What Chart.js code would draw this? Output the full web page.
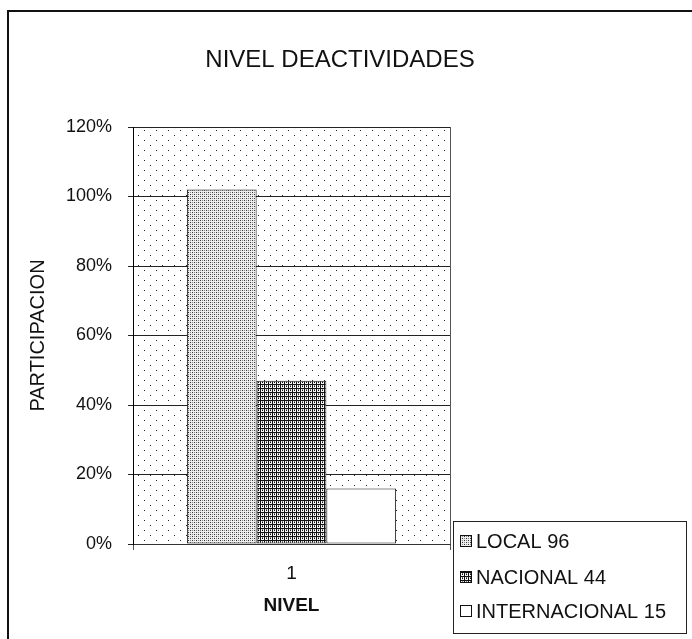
<!DOCTYPE html>
<html><head><meta charset="utf-8">
<script src="https://cdn.jsdelivr.net/npm/chart.js@4"></script>
<style>html,body{margin:0;padding:0;background:#fff;} canvas{display:block;}</style>
</head><body>
<canvas id="c" width="692" height="639"></canvas>
<script>
const categories = ['1'];
const seriesNames = ['LOCAL 96', 'NACIONAL 44', 'INTERNACIONAL 15'];
const localValues = [102];
const nacionalValues = [47];
const internacionalValues = [16];
const yTickStep = 20;
const yMax = 120;

const FAMILY = '"Liberation Sans", Arial, sans-serif';

function makePattern(w, h, bg, pixels) {
  const c = document.createElement('canvas');
  c.width = w; c.height = h;
  const x = c.getContext('2d');
  x.fillStyle = bg; x.fillRect(0, 0, w, h);
  for (const [px, py, col] of pixels) { x.fillStyle = col; x.fillRect(px, py, 1, 1); }
  return x.createPattern(c, 'repeat');
}
const bgPattern = makePattern(12, 10, '#ffffff', [[0,0,'#222'],[6,5,'#222']]);
const localPattern = makePattern(4, 4, '#eeeeee', [[0,0,'#333'],[2,2,'#333'],[2,0,'#888'],[0,2,'#888']]);
const nacPattern = makePattern(4, 4, '#f4f4f4', [[0,0,'#111'],[1,0,'#111'],[2,0,'#111'],[3,0,'#111'],[0,1,'#111'],[0,2,'#111'],[0,3,'#111'],[2,2,'#111'],[2,1,'#777']]);
const intPattern = '#ffffff';

const framePlugin = {
  id: 'frame',
  beforeDraw(chart) {
    const ctx = chart.ctx, a = chart.chartArea;
    ctx.save();
    ctx.fillStyle = '#fff';
    ctx.fillRect(0, 0, chart.width, chart.height);
    ctx.fillStyle = bgPattern;
    ctx.fillRect(a.left, a.top, a.right - a.left, a.bottom - a.top);
    ctx.strokeStyle = '#111';
    ctx.lineWidth = 2;
    ctx.beginPath();
    ctx.moveTo(8, chart.height); ctx.lineTo(8, 11); ctx.lineTo(chart.width, 11);
    ctx.stroke();
    ctx.restore();
  },
  afterDraw(chart) {
    const ctx = chart.ctx;
    const bx = 453, by = 521, bw = 233, bh = 112;
    ctx.save();
    ctx.fillStyle = '#fff';
    ctx.fillRect(bx, by, bw, bh);
    ctx.strokeStyle = '#222';
    ctx.lineWidth = 1;
    ctx.strokeRect(bx + 0.5, by + 0.5, bw, bh);
    const ys = [541, 577, 611];
    ctx.font = '20px ' + FAMILY;
    ctx.textBaseline = 'middle';
    chart.data.datasets.forEach((ds, i) => {
      const y = ys[i];
      ctx.fillStyle = ds.backgroundColor;
      ctx.fillRect(460, y - 5, 11, 11);
      ctx.strokeStyle = '#111';
      ctx.strokeRect(460.5, y - 5.5, 11, 11);
      ctx.fillStyle = '#111';
      ctx.fillText(ds.label, 476, y + 1);
    });
    ctx.restore();
  }
};

new Chart(document.getElementById('c'), {
  type: 'bar',
  data: {
    labels: categories,
    datasets: [
      { label: seriesNames[0], data: localValues, backgroundColor: localPattern },
      { label: seriesNames[1], data: nacionalValues, backgroundColor: nacPattern },
      { label: seriesNames[2], data: internacionalValues, backgroundColor: intPattern }
    ]
  },
  options: {
    responsive: false,
    animation: false,
    devicePixelRatio: 1,
    layout: { padding: { left: 0, right: 12, top: 0, bottom: 0 } },
    datasets: { bar: { barPercentage: 1, categoryPercentage: 0.66, borderColor: '#111', borderWidth: 1, borderSkipped: false } },
    plugins: {
      legend: { display: false },
      tooltip: { enabled: false },
      title: {
        display: true, text: 'NIVEL DEACTIVIDADES', color: '#111',
        font: { family: FAMILY, size: 24, weight: 'normal' },
        padding: { top: 46, bottom: 52.2 }
      }
    },
    scales: {
      x: {
        offset: true,
        grid: { display: true, color: '#555', lineWidth: 1, tickLength: 6 },
        border: { display: true, color: '#333' },
        ticks: { color: '#111', font: { family: FAMILY, size: 19 }, padding: 12 },
        title: { display: true, text: 'NIVEL', color: '#111', font: { family: FAMILY, size: 19, weight: 'bold' }, padding: { top: 0, bottom: 22 } },
        afterFit(s) { s.height = 95; }
      },
      y: {
        min: 0, max: yMax,
        grid: { color: '#222', lineWidth: 1, tickLength: 5 },
        border: { display: true, color: '#000' },
        ticks: { stepSize: yTickStep, color: '#111', font: { family: FAMILY, size: 18 }, padding: 16, callback: v => v + '%' },
        title: { display: true, text: 'PARTICIPACION', color: '#111', font: { family: FAMILY, size: 20 }, padding: { top: 26, bottom: 0 } },
        afterFit(s) { s.width = 133; }
      },
      yR: {
        position: 'right', min: 0, max: 1, display: true,
        grid: { display: false, drawOnChartArea: false },
        border: { display: false },
        ticks: { display: false },
        afterFit(s) { s.width = 230; }
      }
    }
  },
  plugins: [framePlugin]
});
</script>
</body></html>
